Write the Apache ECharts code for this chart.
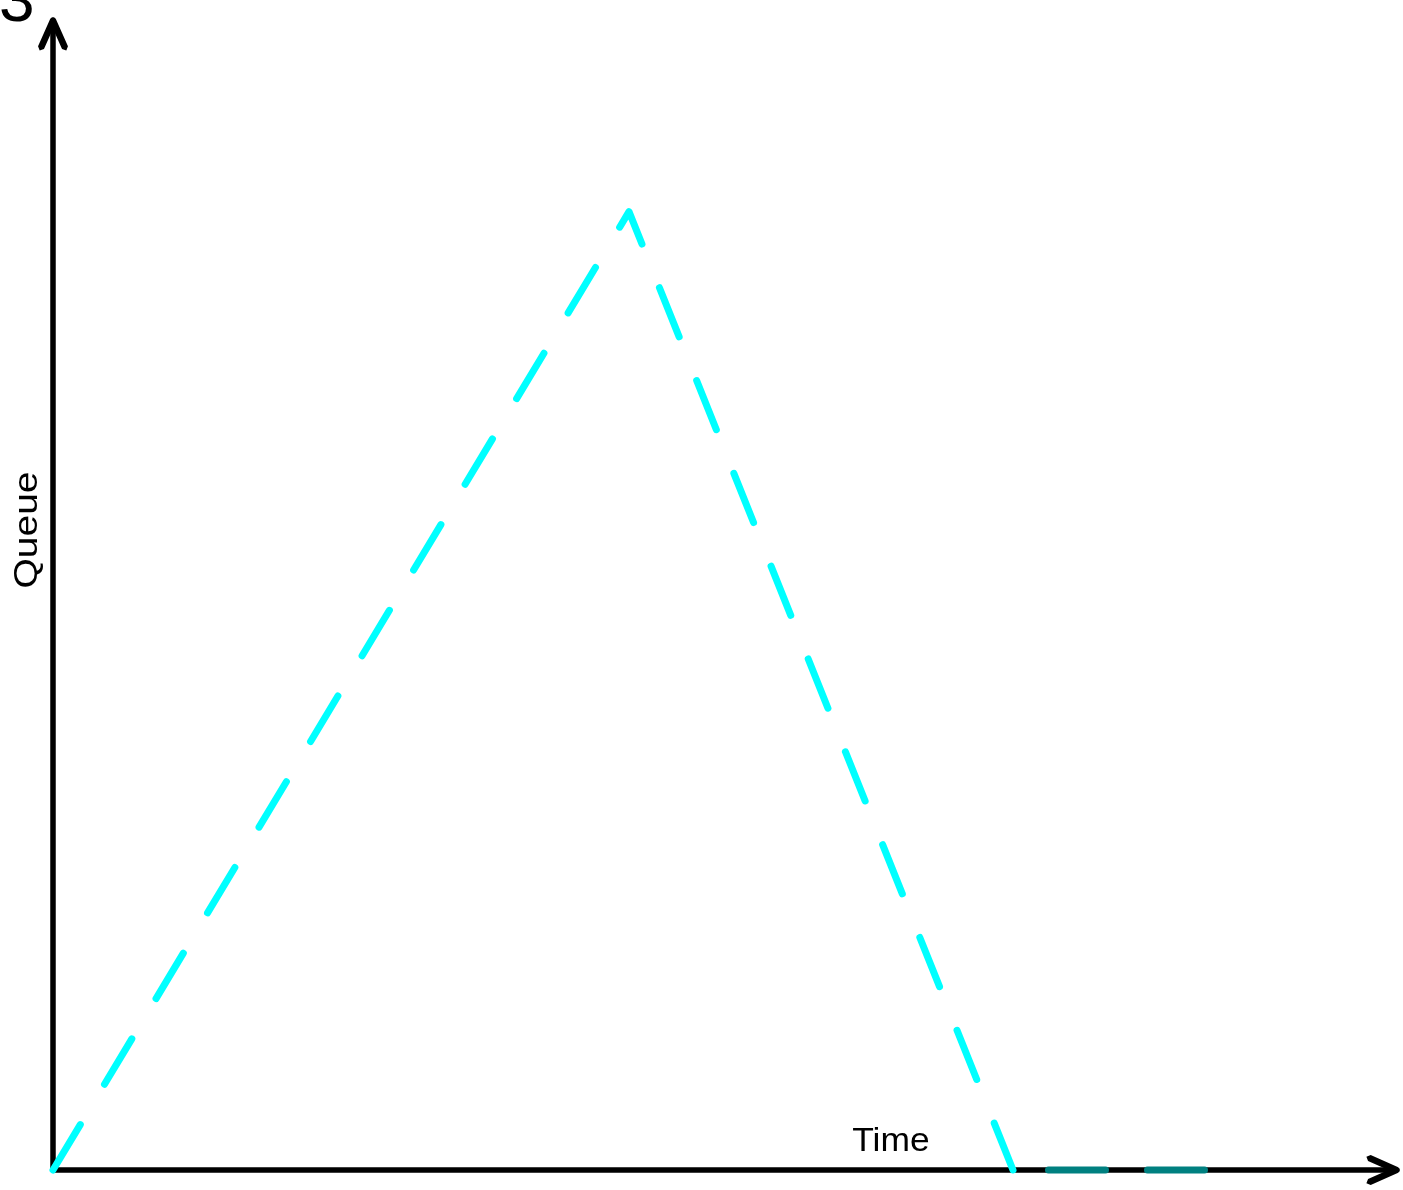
<!DOCTYPE html>
<html>
<head>
<meta charset="utf-8">
<script src="https://cdn.jsdelivr.net/npm/echarts@6/dist/echarts.min.js"></script>
<style>
html,body{margin:0;padding:0;background:#fff;}
#chart{width:1403px;height:1190px;}
</style>
</head>
<body>
<div id="chart"></div>
<script>
// Data
var rampPoints = [[0, 0], [6, 5], [10, 0]];      // cyan queue build-up and drain
var idlePoints = [[10, 0], [12, 0]];             // teal idle segment
var xRange = [0, 14];
var yRange = [0, 6];
var xTitle = 'Time';
var yTitle = 'Queue';
var cornerLabel = '3';

var FONT = 'Liberation Sans, Arial, Helvetica, sans-serif';
var chevron = 'path://M16,0.25 L18.97,2.18 L30.97,29.18 L29.32,33.47 L25.03,31.82 L16,11.5 L6.97,31.82 L2.68,33.47 L1.03,29.18 L13.03,2.18 Z';

var axisLineCfg = {
  show: true,
  onZero: false,
  lineStyle: { color: '#000', width: 5.5 },
  symbol: ['none', chevron],
  symbolSize: [30, 33.2],
  symbolOffset: [0, -14]
};

var chart = echarts.init(document.getElementById('chart'), null, { renderer: 'canvas' });
chart.setOption({
  animation: false,
  backgroundColor: '#fff',
  grid: { left: 53, right: 1403 - 1397, top: 20, bottom: 20, containLabel: false },
  xAxis: {
    type: 'value', min: xRange[0], max: xRange[1],
    axisLine: axisLineCfg, axisTick: { show: false }, axisLabel: { show: false }, splitLine: { show: false }
  },
  yAxis: {
    type: 'value', min: yRange[0], max: yRange[1],
    axisLine: axisLineCfg, axisTick: { show: false }, axisLabel: { show: false }, splitLine: { show: false }
  },
  series: [
    {
      type: 'line', data: rampPoints, showSymbol: false, symbol: 'none', clip: false, z: 3,
      lineStyle: { color: '#00FFFF', width: 7, type: [53, 47], dashOffset: 0, cap: 'round', join: 'round' }
    },
    {
      type: 'line', data: idlePoints, showSymbol: false, symbol: 'none', clip: false, z: 3,
      lineStyle: { color: '#008080', width: 7, type: [57, 42], dashOffset: 63.5, cap: 'round', join: 'round' }
    }
  ],
  graphic: [
    { type: 'text', x: 891, y: 1142, scaleX: 1.09, style: { text: xTitle, font: '32.5px ' + FONT, fill: '#000', align: 'center', verticalAlign: 'middle' } },
    { type: 'text', x: 27.5, y: 530, rotation: Math.PI / 2, scaleX: 1.18, style: { text: yTitle, font: '33px ' + FONT, fill: '#000', align: 'center', verticalAlign: 'middle' } },
    { type: 'text', x: -1, y: 3, style: { text: cornerLabel, font: '64px ' + FONT, fill: '#000', align: 'left', verticalAlign: 'middle' } }
  ]
});
</script>
</body>
</html>
